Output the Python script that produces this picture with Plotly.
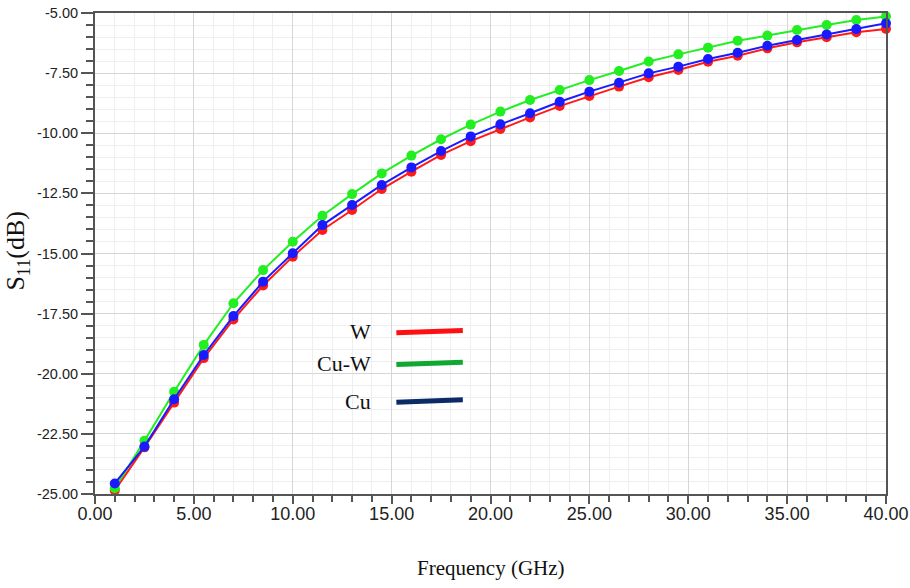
import plotly.graph_objects as go

# Frequency sweep (GHz)
freq = [1.0, 2.5, 4.0, 5.5, 7.0, 8.5, 10.0, 11.5, 13.0, 14.5, 16.0, 17.5, 19.0,
        20.5, 22.0, 23.5, 25.0, 26.5, 28.0, 29.5, 31.0, 32.5, 34.0, 35.5, 37.0,
        38.5, 40.0]

# S11 (dB) for each conductor material
s11_w = [-24.85, -23.06, -21.20, -19.35, -17.74, -16.33, -15.13, -14.02, -13.19,
         -12.32, -11.60, -10.90, -10.33, -9.82, -9.34, -8.87, -8.45, -8.06, -7.67,
         -7.37, -7.03, -6.78, -6.47, -6.22, -6.01, -5.80, -5.66]
s11_cuw = [-24.76, -22.79, -20.75, -18.80, -17.07, -15.69, -14.51, -13.43, -12.53,
           -11.67, -10.93, -10.25, -9.64, -9.10, -8.62, -8.20, -7.79, -7.41, -7.02,
           -6.72, -6.44, -6.15, -5.94, -5.71, -5.50, -5.29, -5.14]
s11_cu = [-24.56, -23.03, -21.06, -19.22, -17.60, -16.17, -14.99, -13.82, -12.98,
          -12.15, -11.42, -10.74, -10.13, -9.63, -9.17, -8.69, -8.27, -7.90, -7.51,
          -7.23, -6.91, -6.65, -6.36, -6.12, -5.89, -5.67, -5.43]

# Axis tick positions (labels use a plain hyphen for negatives)
x_ticks = [0, 5, 10, 15, 20, 25, 30, 35, 40]
y_ticks = [-25, -22.5, -20, -17.5, -15, -12.5, -10, -7.5, -5]

series_names = ["W", "Cu-W", "Cu"]
curve_colors = ["#ff1a1a", "#22ee22", "#1a1aff"]
key_colors = ["#ff1010", "#10a830", "#0c2a66"]

fig = go.Figure()
for name, ys, col in [("W", s11_w, curve_colors[0]),
                      ("Cu-W", s11_cuw, curve_colors[1]),
                      ("Cu", s11_cu, curve_colors[2])]:
    fig.add_trace(go.Scatter(
        x=freq, y=ys, name=name, mode="lines+markers",
        line=dict(color=col, width=2),
        marker=dict(color=col, size=10, symbol="circle"),
        cliponaxis=False, showlegend=False,
    ))

serif = "Liberation Serif, Times New Roman, serif"

# Key: label on the left, thick coloured bar on the right
key_y = [0.337, 0.271, 0.193]
for name, yk, col in zip(series_names, key_y, key_colors):
    fig.add_annotation(x=0.352, y=yk, xref="paper", yref="paper", text=name,
                       showarrow=False, xanchor="right", yanchor="middle",
                       font=dict(family=serif, size=22, color="#111111"))
    fig.add_shape(type="line", xref="paper", yref="paper",
                  x0=0.381, x1=0.465, y0=yk - 0.002, y1=yk + 0.003,
                  line=dict(color=col, width=5))

# Axis titles
fig.add_annotation(x=0.5, y=-0.154, xref="paper", yref="paper",
                   text="Frequency (GHz)", showarrow=False,
                   xanchor="center", yanchor="middle",
                   font=dict(family=serif, size=21, color="#111111"))
fig.add_annotation(x=-0.098, y=0.507, xref="paper", yref="paper",
                   text="S<sub>11</sub>(dB)", showarrow=False, textangle=-90,
                   xanchor="center", yanchor="middle",
                   font=dict(family=serif, size=26, color="#111111"))

axis_font = dict(family="Liberation Sans, Arial, sans-serif", color="#222222")

fig.update_xaxes(
    range=[0, 40], tickvals=x_ticks, ticktext=[f"{v:.2f}" for v in x_ticks],
    tickfont=dict(size=18, **axis_font), automargin=False,
    ticklabelstandoff=-6,
    showline=True, linecolor="#555555", linewidth=2, mirror=True,
    ticks="outside", ticklen=8, tickwidth=1.5, tickcolor="#555555",
    showgrid=True, gridcolor="#d6d6d6", gridwidth=1, zeroline=False,
    minor=dict(dtick=1, showgrid=True, gridcolor="#eeeeee", gridwidth=1,
               ticks="outside", ticklen=6, tickcolor="#555555"),
)
fig.update_yaxes(
    range=[-25, -5], tickvals=y_ticks, ticktext=[f"{v:.2f}" for v in y_ticks],
    tickfont=dict(size=14.5, **axis_font), automargin=False,
    showline=True, linecolor="#555555", linewidth=2, mirror=True,
    ticks="outside", ticklen=12, tickwidth=1.5, tickcolor="#555555",
    showgrid=True, gridcolor="#d6d6d6", gridwidth=1, zeroline=False,
    minor=dict(tick0=-25, dtick=0.5, showgrid=True, gridcolor="#eeeeee",
               gridwidth=1, ticks="outside", ticklen=7, tickcolor="#555555"),
)

fig.update_layout(
    width=910, height=588,
    margin=dict(l=95, r=24, t=13, b=94),
    paper_bgcolor="white", plot_bgcolor="white",
)

fig.write_html("out.html")
